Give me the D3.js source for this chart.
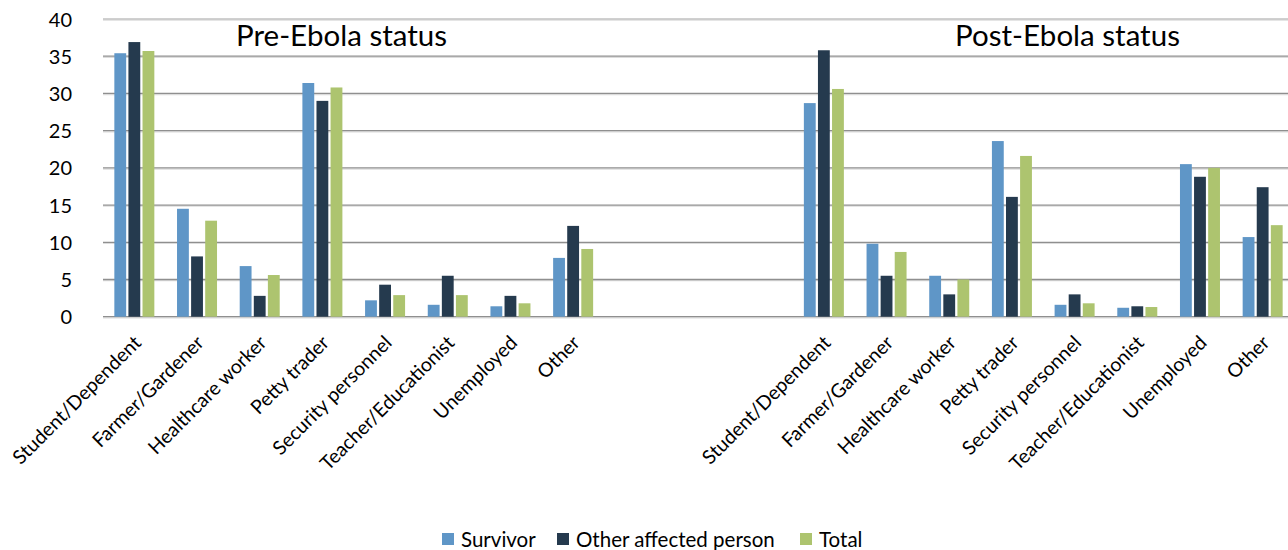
<!DOCTYPE html>
<html><head><meta charset="utf-8">
<script src="https://cdn.jsdelivr.net/npm/d3@7"></script>
<style>
html,body{margin:0;padding:0;background:#fff;}
svg{display:block;font-family:Lato,"Open Sans",sans-serif;}
</style></head>
<body><svg id="chart" width="1288" height="550"></svg>
<script>
const categories = ["Student/Dependent","Farmer/Gardener","Healthcare worker","Petty trader","Security personnel","Teacher/Educationist","Unemployed","Other"];
const seriesNames = ["Survivor","Other affected person","Total"];
const seriesColors = ["#5f96c7","#253a4e","#adc46f"];
const panelTitles = ["Pre-Ebola status","Post-Ebola status"];
const gapSlots = 3;
const preSurvivor = [35.4,14.5,6.8,31.4,2.2,1.6,1.4,7.9];
const preOther    = [36.9,8.1,2.8,29.0,4.3,5.5,2.8,12.2];
const preTotal    = [35.7,12.9,5.6,30.8,2.9,2.9,1.8,9.1];
const postSurvivor = [28.7,9.8,5.5,23.6,1.6,1.2,20.5,10.7];
const postOther    = [35.8,5.5,3.0,16.1,3.0,1.4,18.8,17.4];
const postTotal    = [30.6,8.7,5.0,21.6,1.8,1.3,20.0,12.3];
const yTicks = [0,5,10,15,20,25,30,35,40];

(function(){
const svg = d3.select("#chart");
const mLeft = 103, mRight = 1294, mTop = 19, mBottom = 316.7;

const slots = [];
categories.forEach((c,i)=>slots.push({key:"pre"+i,label:c}));
for(let i=0;i<gapSlots;i++) slots.push({key:"gap"+i,label:""});
categories.forEach((c,i)=>slots.push({key:"post"+i,label:c}));

const x = d3.scaleBand().domain(slots.map(s=>s.key)).range([mLeft,mRight]).padding(0);
const y = d3.scaleLinear().domain([0,40]).range([mBottom,mTop]);
const inner = d3.scaleBand().domain(seriesNames).range([0,40]).paddingInner(0.16);
const groupOffset = (x.bandwidth()-40)/2;

// gridlines
const grid = svg.append("g");
yTicks.forEach(t=>{
  grid.append("line").attr("x1",mLeft).attr("x2",1288).attr("y1",y(t)+1.2).attr("y2",y(t)+1.2)
    .attr("stroke","#dcdcdc").attr("stroke-width",1.2);
  grid.append("line").attr("x1",mLeft).attr("x2",1288).attr("y1",y(t)).attr("y2",y(t))
    .attr("stroke", t===40 ? "#c0c0c0" : "#8f8f8f").attr("stroke-width",1.3);
});

// y axis labels
const yAxis = svg.append("g").attr("transform",`translate(${mLeft-31},0)`)
  .call(d3.axisLeft(y).tickValues(yTicks).tickSize(0).tickPadding(0));
yAxis.select(".domain").remove();
yAxis.selectAll("text").attr("font-size",20).attr("fill","#000").attr("font-family","Lato,sans-serif").attr("dy","0.35em");

// bars
const rows = [];
const pre = [preSurvivor,preOther,preTotal];
const post = [postSurvivor,postOther,postTotal];
categories.forEach((c,i)=>{
  seriesNames.forEach((s,j)=>{
    rows.push({slot:"pre"+i,series:s,color:seriesColors[j],value:pre[j][i]});
    rows.push({slot:"post"+i,series:s,color:seriesColors[j],value:post[j][i]});
  });
});
svg.append("g").selectAll("rect").data(rows).join("rect")
  .attr("x",d=>x(d.slot)+groupOffset+inner(d.series))
  .attr("width",inner.bandwidth())
  .attr("y",d=>y(d.value))
  .attr("height",d=>y(0)-y(d.value))
  .attr("fill",d=>d.color);

// x labels
const xl = svg.append("g");
slots.filter(s=>s.label).forEach(s=>{
  const cx = x(s.key)+x.bandwidth()/2 + 8;
  xl.append("text").attr("transform",`translate(${cx},${344}) rotate(-45)`)
    .attr("text-anchor","end").attr("font-size",19.5).attr("fill","#000").text(s.label);
});

// panel titles
svg.append("text").attr("x",236).attr("y",46).attr("font-size",29.5).attr("fill","#000").text(panelTitles[0]);
svg.append("text").attr("x",955).attr("y",46).attr("font-size",29.5).attr("fill","#000").text(panelTitles[1]);

// legend
const legendX = [442,557,800];
const lg = svg.append("g");
seriesNames.forEach((s,j)=>{
  lg.append("rect").attr("x",legendX[j]).attr("y",533).attr("width",12).attr("height",12).attr("fill",seriesColors[j]);
  lg.append("text").attr("x",legendX[j]+19).attr("y",547).attr("font-size",20.5).attr("fill","#000").text(s);
});
})();
</script></body></html>
